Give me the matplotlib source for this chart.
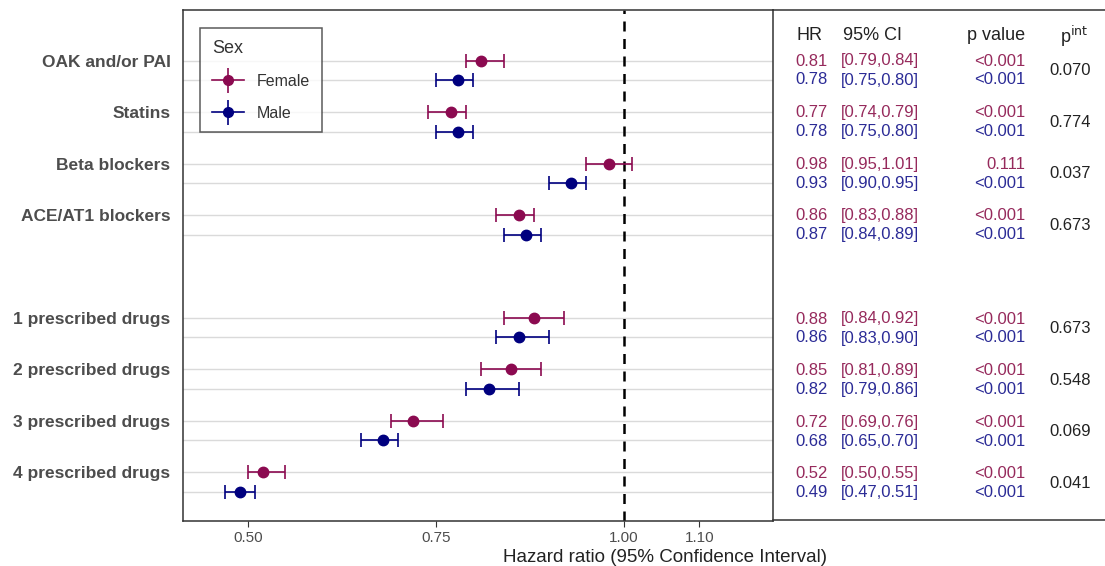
import numpy as np
import matplotlib
matplotlib.use('Agg')
import matplotlib.pyplot as plt
from matplotlib.lines import Line2D
from matplotlib.legend_handler import HandlerTuple

plt.rcParams['font.family'] = ['Liberation Sans', 'DejaVu Sans']

# data
groups = ['OAK and/or PAI', 'Statins', 'Beta blockers', 'ACE/AT1 blockers',
          '1 prescribed drugs', '2 prescribed drugs', '3 prescribed drugs', '4 prescribed drugs']
group_pos = [0, 1, 2, 3, 5, 6, 7, 8]   # empty slot between the two blocks

hr_f = [0.81, 0.77, 0.98, 0.86, 0.88, 0.85, 0.72, 0.52]
lo_f = [0.79, 0.74, 0.95, 0.83, 0.84, 0.81, 0.69, 0.50]
hi_f = [0.84, 0.79, 1.01, 0.88, 0.92, 0.89, 0.76, 0.55]
p_f = ['<0.001', '<0.001', '0.111', '<0.001', '<0.001', '<0.001', '<0.001', '<0.001']

hr_m = [0.78, 0.78, 0.93, 0.87, 0.86, 0.82, 0.68, 0.49]
lo_m = [0.75, 0.75, 0.90, 0.84, 0.83, 0.79, 0.65, 0.47]
hi_m = [0.80, 0.80, 0.95, 0.89, 0.90, 0.86, 0.70, 0.51]
p_m = ['<0.001'] * 8

p_int = ['0.070', '0.774', '0.037', '0.673', '0.673', '0.548', '0.069', '0.041']

xticks = [0.50, 0.75, 1.00, 1.10]
xtick_labels = ['0.50', '0.75', '1.00', '1.10']

col_f = '#8B0A50'
col_m = '#00007F'
txt_f = '#962A5C'
txt_m = '#2B2B96'
grey = '#4D4D4D'

W, H = 1105, 566
fig = plt.figure(figsize=(W / 100, H / 100), dpi=100)
ax = fig.add_axes([183 / W, 1 - 521 / H, (773 - 183) / W, (521 - 10) / H])

off = 0.38
yf = np.array(group_pos, dtype=float)
ym = yf + off

for y in np.concatenate([yf, ym]):
    ax.axhline(y, color='#DADADA', lw=1, zorder=0)

ax.errorbar(hr_f, yf, xerr=[np.array(hr_f) - lo_f, np.array(hi_f) - hr_f], fmt='o',
            color=col_f, ms=7.5, elinewidth=1.2, capsize=5, capthick=1.2, zorder=3)
ax.errorbar(hr_m, ym, xerr=[np.array(hr_m) - lo_m, np.array(hi_m) - hr_m], fmt='o',
            color=col_m, ms=7.5, elinewidth=1.2, capsize=5, capthick=1.2, zorder=3)
ax.axvline(1.0, color='black', ls=(0, (4, 3)), lw=1.8, zorder=2)

ax.set_xlim(0.414, 1.198)
ax.set_ylim(8.95, -0.99)
ax.set_xticks(xticks)
ax.set_xticklabels(xtick_labels, color=grey, fontsize=11)
ax.set_yticks(yf)
ax.set_yticklabels(groups, color=grey, fontsize=12.5, fontweight='bold')
ax.tick_params(axis='y', length=0, pad=9)
ax.tick_params(axis='x', length=4, color='#333333', pad=3)
for s in ax.spines.values():
    s.set_color('#333333')
    s.set_linewidth(1.1)

# legend with crossed keys like ggplot pointrange
h_f = (Line2D([], [], color=col_f, marker='o', ms=7, lw=1.2),
       Line2D([], [], color=col_f, marker='|', ms=18, mew=1.2, lw=0))
h_m = (Line2D([], [], color=col_m, marker='o', ms=7, lw=1.2),
       Line2D([], [], color=col_m, marker='|', ms=18, mew=1.2, lw=0))
leg = ax.legend([h_f, h_m], ['Female', 'Male'], title='Sex',
                handler_map={tuple: HandlerTuple(ndivide=1)},
                loc='upper left', bbox_to_anchor=(17 / 590, 1 - 18 / 511),
                borderaxespad=0, fancybox=False, edgecolor='#333333', fontsize=11.5,
                title_fontsize=13, labelspacing=1.05, handlelength=2.0,
                borderpad=0.75, alignment='left', handletextpad=0.8)
leg.get_frame().set_linewidth(1.1)
leg.get_title().set_color('#333333')
for t in leg.get_texts():
    t.set_color('#333333')

fig.text(665 / W, 1 - 558 / H, 'Hazard ratio (95% Confidence Interval)',
         ha='center', va='center', fontsize=13.5, color='#222222')

# table on the right
def fy(px):
    return 1 - px / H

fig.add_artist(Line2D([773 / W, 1.0], [fy(10), fy(10)], color='#333333', lw=1.1))
fig.add_artist(Line2D([773 / W, 1.0], [fy(520), fy(520)], color='#333333', lw=1.1))

hdr_y = fy(36)
fig.text(797 / W, hdr_y, 'HR', fontsize=13, color='#222222', va='center')
fig.text(843 / W, hdr_y, '95% CI', fontsize=13, color='#222222', va='center')
fig.text(1025 / W, hdr_y, 'p value', fontsize=13, color='#222222', va='center', ha='right')
fig.text(1060 / W, hdr_y, r'p$^{\mathrm{int}}$', fontsize=13, color='#222222', va='center')

for i, g in enumerate(group_pos):
    y_f = 61 + g * 51.6
    y_m = y_f + 19
    fig.text(795 / W, fy(y_f), f'{hr_f[i]:.2f}', fontsize=12, color=txt_f, va='center')
    fig.text(841 / W, fy(y_f), f'[{lo_f[i]:.2f},{hi_f[i]:.2f}]', fontsize=12, color=txt_f, va='center')
    fig.text(1025 / W, fy(y_f), p_f[i], fontsize=12, color=txt_f, va='center', ha='right')
    fig.text(795 / W, fy(y_m), f'{hr_m[i]:.2f}', fontsize=12, color=txt_m, va='center')
    fig.text(841 / W, fy(y_m), f'[{lo_m[i]:.2f},{hi_m[i]:.2f}]', fontsize=12, color=txt_m, va='center')
    fig.text(1025 / W, fy(y_m), p_m[i], fontsize=12, color=txt_m, va='center', ha='right')
    fig.text(1049 / W, fy((y_f + y_m) / 2), p_int[i], fontsize=12, color='#222222', va='center')

fig.savefig('out.png', dpi=100)
